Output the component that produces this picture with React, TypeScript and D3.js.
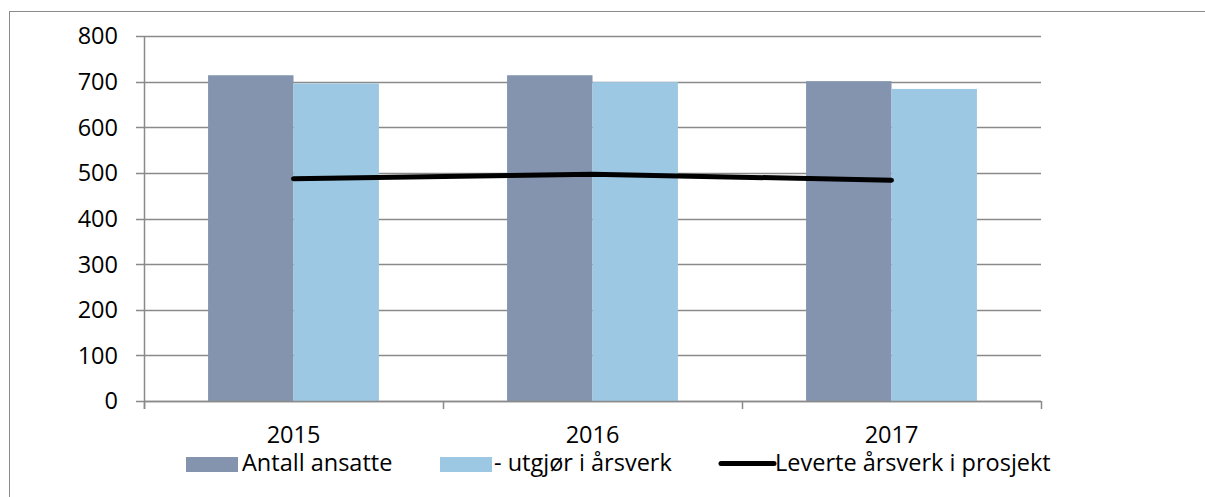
import React from "react";
import * as d3 from "d3";

const categories = ["2015", "2016", "2017"];
const antallAnsatte = [714, 714, 701];
const utgjorArsverk = [696, 699, 684];
const leverteArsverk = [487, 497, 484];
const yTicks = [0, 100, 200, 300, 400, 500, 600, 700, 800];
const seriesNames = ["Antall ansatte", "- utgjør i årsverk", "Leverte årsverk i prosjekt"];

const W = 1205;
const H = 497;
const FONT = "'Open Sans', sans-serif";
const FS = 23.5;
const DARK = "#8494AF";
const LIGHT = "#9DC8E3";
const GRID = "#8a8a8a";

export default function App() {
  const left = 144, right = 1041, top = 36, bottom = 401;
  const x = d3.scaleBand<string>().domain(categories).range([left, right]).paddingInner(0).paddingOuter(0);
  const y = d3.scaleLinear().domain([0, 800]).range([bottom, top]);
  const bw = x.bandwidth();
  const barW = bw / 3.5;
  const line = d3
    .line<number>()
    .x((_, i) => (x(categories[i]) as number) + bw / 2)
    .y((d) => y(d));

  const boundaries = [...categories.map((c) => x(c) as number), right];

  return (
    <svg
      width={W}
      height={H}
      style={{ position: "absolute", left: 0, top: 0, background: "#fff" }}
      fontFamily={FONT}
    >
      <rect x={9.5} y={11.5} width={W + 10} height={H + 10} fill="#fff" stroke={GRID} strokeWidth={1} />
      {yTicks.map((t) => (
        <g key={t}>
          <line x1={136} x2={right} y1={Math.round(y(t)) + 0.5} y2={Math.round(y(t)) + 0.5} stroke={GRID} strokeWidth={1.5} />
          <text x={118} y={y(t)} dy="0.36em" textAnchor="end" fontSize={FS} fill="#000">
            {t}
          </text>
        </g>
      ))}
      <line x1={left + 0.5} x2={left + 0.5} y1={top} y2={bottom + 8} stroke={GRID} strokeWidth={1.5} />
      {boundaries.map((b, i) => (
        <line key={i} x1={b + 0.5} x2={b + 0.5} y1={bottom} y2={bottom + 8} stroke={GRID} strokeWidth={1.5} />
      ))}
      {categories.map((c, i) => {
        const cx = (x(c) as number) + bw / 2;
        return (
          <g key={c}>
            <rect x={cx - barW} y={y(antallAnsatte[i])} width={barW} height={bottom - y(antallAnsatte[i])} fill={DARK} />
            <rect x={cx} y={y(utgjorArsverk[i])} width={barW} height={bottom - y(utgjorArsverk[i])} fill={LIGHT} />
            <text x={cx} y={443} textAnchor="middle" fontSize={FS} fill="#000">
              {c}
            </text>
          </g>
        );
      })}
      <line x1={left} x2={right} y1={bottom + 0.5} y2={bottom + 0.5} stroke={GRID} strokeWidth={1.5} />
      <path d={line(leverteArsverk) || ""} fill="none" stroke="#000" strokeWidth={5} strokeLinecap="round" strokeLinejoin="round" />
      {/* legend */}
      <rect x={186} y={457} width={52} height={15} fill={DARK} />
      <text x={242} y={471} fontSize={FS} fill="#000">{seriesNames[0]}</text>
      <rect x={440} y={457} width={52} height={15} fill={LIGHT} />
      <text x={494} y={471} fontSize={FS} fill="#000">{seriesNames[1]}</text>
      <line x1={721} x2={774} y1={463.5} y2={463.5} stroke="#000" strokeWidth={5} strokeLinecap="round" />
      <text x={775} y={471} fontSize={FS} fill="#000">{seriesNames[2]}</text>
    </svg>
  );
}
